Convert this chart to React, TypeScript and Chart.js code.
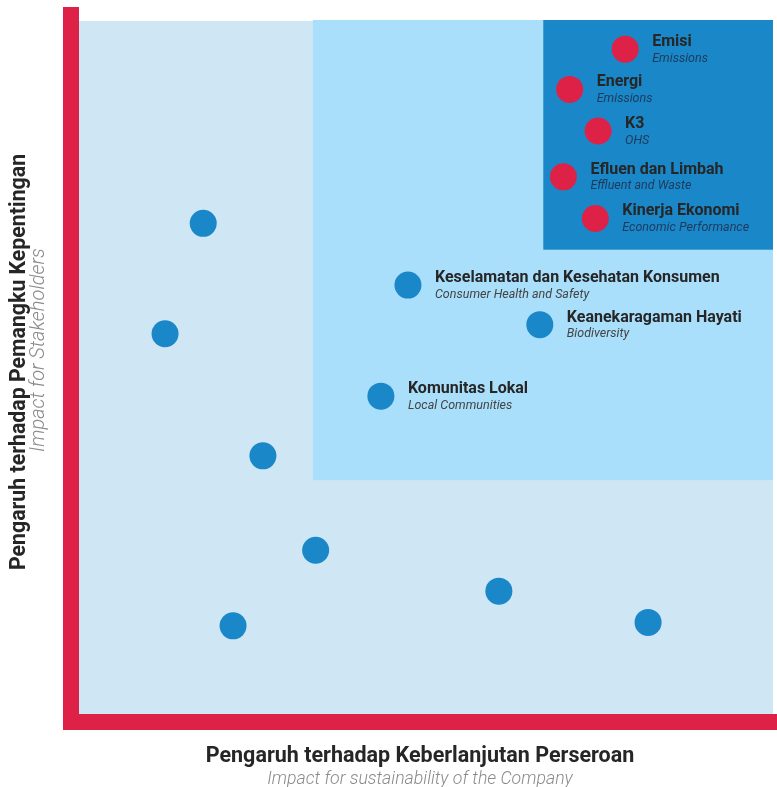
import React, { useEffect, useRef } from "react";
import { Chart, registerables } from "chart.js";

Chart.register(...registerables);

// ---- data ----
const topicNames = [
  "Emisi",
  "Energi",
  "K3",
  "Efluen dan Limbah",
  "Kinerja Ekonomi",
  "Keselamatan dan Kesehatan Konsumen",
  "Keanekaragaman Hayati",
  "Komunitas Lokal",
  "",
  "",
  "",
  "",
  "",
  "",
  "",
];
const topicSubtitles = [
  "Emissions",
  "Emissions",
  "OHS",
  "Effluent and Waste",
  "Economic Performance",
  "Consumer Health and Safety",
  "Biodiversity",
  "Local Communities",
  "",
  "",
  "",
  "",
  "",
  "",
  "",
];
// Impact for sustainability of the Company (x, 0-100)
const companyImpact = [78.7, 70.7, 74.8, 69.8, 74.4, 47.4, 66.4, 43.5, 17.9, 12.4, 26.5, 34.1, 60.5, 22.2, 82.0];
// Impact for Stakeholders (y, 0-100)
const stakeholderImpact = [95.8, 90.0, 84.0, 77.4, 71.4, 61.8, 56.1, 45.8, 70.7, 54.8, 37.2, 23.6, 17.7, 12.7, 13.2];
const priority = ["high", "high", "high", "high", "high", "medium", "medium", "medium", "low", "low", "low", "low", "low", "low", "low"];

const zoneStarts = [0, 33.7, 66.9];
const zoneColors = ["#CFE6F4", "#A9DFFB", "#1A87C9"];

const xTitle = "Pengaruh terhadap Keberlanjutan Perseroan";
const xSubtitle = "Impact for sustainability of the Company";
const yTitle = "Pengaruh terhadap Pemangku Kepentingan";
const ySubtitle = "Impact for Stakeholders";

const RED = "#DE2247";
const BLUE = "#1A87C9";

export default function App() {
  const ref = useRef<HTMLCanvasElement>(null);

  useEffect(() => {
    if (!ref.current) return;
    document.body.style.margin = "0";
    document.body.style.overflow = "hidden";
    document.documentElement.style.overflow = "hidden";

    const matrixPlugin = {
      id: "matrix",
      beforeDatasetsDraw(chart: any) {
        const { ctx, chartArea: a, scales } = chart;
        const x = scales.x;
        const y = scales.y;
        ctx.save();
        zoneStarts.forEach((s, i) => {
          const px1 = x.getPixelForValue(s);
          const px2 = x.getPixelForValue(100);
          const py1 = y.getPixelForValue(100);
          const py2 = y.getPixelForValue(s);
          ctx.fillStyle = zoneColors[i];
          ctx.fillRect(px1, py1 + (i === 0 ? 1 : 0), px2 - px1, py2 - py1 - (i === 0 ? 1 : 0));
        });
        // red axis bars
        ctx.fillStyle = RED;
        ctx.fillRect(a.left - 16, a.top - 13, 16, a.bottom - a.top + 13 + 16);
        ctx.fillRect(a.left - 16, a.bottom, a.right - a.left + 16 + 4, 16);
        ctx.restore();
      },
      afterDatasetsDraw(chart: any) {
        const { ctx, chartArea: a, scales } = chart;
        const x = scales.x;
        const y = scales.y;
        ctx.save();
        ctx.textAlign = "left";
        ctx.textBaseline = "alphabetic";
        topicNames.forEach((name, i) => {
          if (!name) return;
          const cx = x.getPixelForValue(companyImpact[i]);
          const cy = y.getPixelForValue(stakeholderImpact[i]);
          const tx = cx + 27;
          ctx.fillStyle = "#262626";
          ctx.font = "bold 16px Roboto";
          ctx.fillText(name, tx, cy - 3);
          ctx.fillStyle = priority[i] === "high" ? "#1E3A5A" : "#444444";
          ctx.font = "italic 12.5px Roboto";
          ctx.fillText(topicSubtitles[i], tx, cy + 12.5);
        });

        // x axis titles
        const midX = (a.left - 16 + a.right + 4) / 2;
        ctx.textAlign = "center";
        ctx.fillStyle = "#262626";
        ctx.font = "bold 21.5px Roboto";
        ctx.fillText(xTitle, midX, a.bottom + 48);
        ctx.fillStyle = "#8A8A8A";
        ctx.font = "italic 300 17.7px Roboto";
        ctx.fillText(xSubtitle, midX, a.bottom + 70);

        // y axis titles (rotated)
        ctx.save();
        ctx.translate(25, 362);
        ctx.rotate(-Math.PI / 2);
        ctx.fillStyle = "#262626";
        ctx.font = "bold 21.3px Roboto";
        ctx.fillText(yTitle, 0, 0);
        ctx.restore();
        ctx.save();
        ctx.translate(44, 350);
        ctx.rotate(-Math.PI / 2);
        ctx.fillStyle = "#8A8A8A";
        ctx.font = "italic 300 20px Roboto";
        ctx.fillText(ySubtitle, 0, 0);
        ctx.restore();

        ctx.restore();
      },
    };

    const chart = new Chart(ref.current, {
      type: "scatter",
      data: {
        datasets: [
          {
            data: companyImpact.map((v, i) => ({ x: v, y: stakeholderImpact[i] })),
            pointBackgroundColor: priority.map((p) => (p === "high" ? RED : BLUE)),
            pointBorderWidth: 0,
            pointRadius: 13.5,
            pointHoverRadius: 13.5,
          },
        ],
      },
      options: {
        animation: false,
        responsive: false,
        maintainAspectRatio: false,
        devicePixelRatio: 1,
        layout: { autoPadding: false, padding: { left: 79, right: 4, top: 20, bottom: 73 } },
        plugins: { legend: { display: false }, tooltip: { enabled: false } },
        events: [],
        scales: {
          x: { type: "linear", min: 0, max: 100, display: false },
          y: { type: "linear", min: 0, max: 100, display: false },
        },
      },
      plugins: [matrixPlugin],
    });

    return () => chart.destroy();
  }, []);

  return (
    <div style={{ position: "fixed", left: 0, top: 0, width: 777, height: 787, background: "#fff", overflow: "hidden" }}>
      <canvas ref={ref} width={777} height={787} style={{ display: "block", width: 777, height: 787 }} />
    </div>
  );
}
